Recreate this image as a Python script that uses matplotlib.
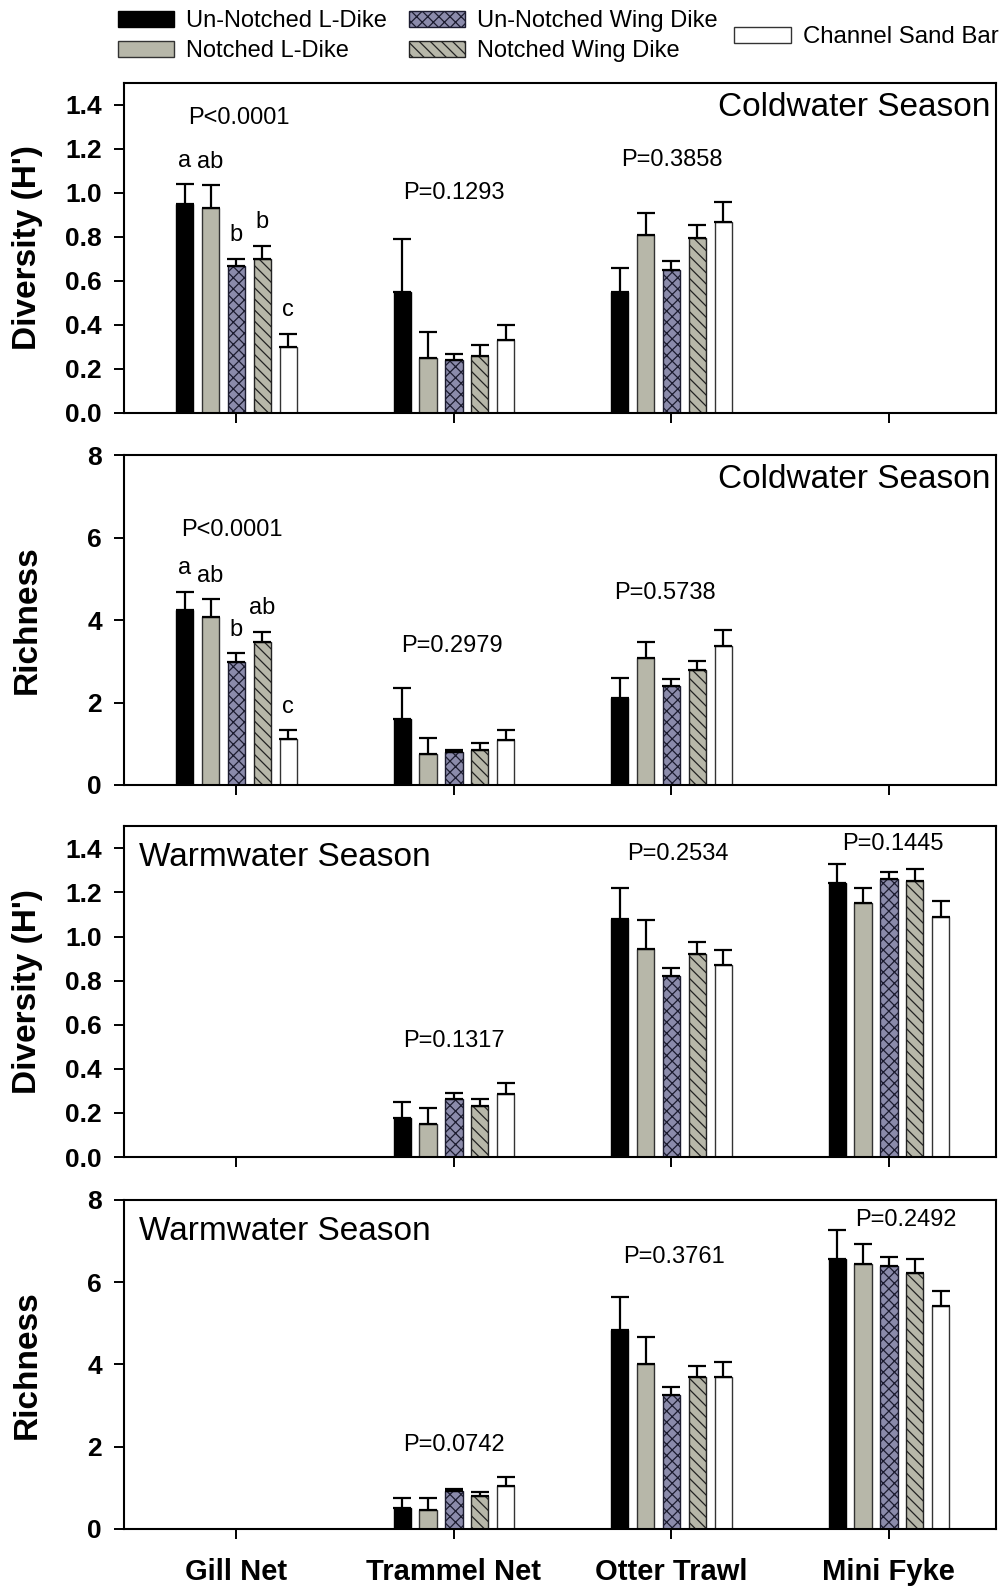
import matplotlib
matplotlib.use("Agg")
import matplotlib.pyplot as plt
import numpy as np

plt.rcParams['font.family'] = ['Liberation Sans', 'DejaVu Sans']
plt.rcParams['hatch.linewidth'] = 0.9

gears = ["Gill Net", "Trammel Net", "Otter Trawl", "Mini Fyke"]
habitats = ["Un-Notched L-Dike", "Notched L-Dike", "Un-Notched Wing Dike",
            "Notched Wing Dike", "Channel Sand Bar"]

# values per habitat (rows) x gear (cols); None = not sampled
cold_div_mean = [[0.95, 0.55, 0.55, None],
                 [0.93, 0.25, 0.81, None],
                 [0.67, 0.24, 0.65, None],
                 [0.70, 0.26, 0.795, None],
                 [0.30, 0.33, 0.87, None]]
cold_div_top = [[1.04, 0.79, 0.66, None],
                [1.035, 0.37, 0.91, None],
                [0.70, 0.27, 0.69, None],
                [0.76, 0.31, 0.855, None],
                [0.36, 0.40, 0.96, None]]

cold_rich_mean = [[4.25, 1.59, 2.10, None],
                  [4.08, 0.76, 3.07, None],
                  [2.98, 0.80, 2.40, None],
                  [3.46, 0.85, 2.78, None],
                  [1.12, 1.09, 3.38, None]]
cold_rich_top = [[4.69, 2.34, 2.59, None],
                 [4.50, 1.13, 3.47, None],
                 [3.19, 0.86, 2.58, None],
                 [3.72, 1.03, 3.01, None],
                 [1.33, 1.33, 3.77, None]]

warm_div_mean = [[None, 0.178, 1.08, 1.245],
                 [None, 0.148, 0.943, 1.153],
                 [None, 0.263, 0.819, 1.26],
                 [None, 0.233, 0.923, 1.25],
                 [None, 0.285, 0.871, 1.09]]
warm_div_top = [[None, 0.248, 1.22, 1.328],
                [None, 0.224, 1.075, 1.22],
                [None, 0.289, 0.857, 1.293],
                [None, 0.262, 0.976, 1.308],
                [None, 0.335, 0.94, 1.163]]

warm_rich_mean = [[None, 0.52, 4.84, 6.55],
                  [None, 0.47, 4.02, 6.44],
                  [None, 0.92, 3.25, 6.38],
                  [None, 0.79, 3.70, 6.21],
                  [None, 1.04, 3.70, 5.43]]
warm_rich_top = [[None, 0.74, 5.63, 7.26],
                 [None, 0.74, 4.66, 6.92],
                 [None, 0.96, 3.44, 6.62],
                 [None, 0.91, 3.95, 6.55],
                 [None, 1.26, 4.05, 5.78]]

p_cold_div = ["P<0.0001", "P=0.1293", "P=0.3858", None]
p_cold_div_pos = [(0.01, 1.34), (1.0, 1.0), (2.0, 1.15), None]
p_cold_rich = ["P<0.0001", "P=0.2979", "P=0.5738", None]
p_cold_rich_pos = [(-0.02, 6.18), (0.99, 3.37), (1.97, 4.65), None]
p_warm_div = [None, "P=0.1317", "P=0.2534", "P=0.1445"]
p_warm_div_pos = [None, (1.0, 0.525), (2.03, 1.373), (3.02, 1.42)]
p_warm_rich = [None, "P=0.0742", "P=0.3761", "P=0.2492"]
p_warm_rich_pos = [None, (1.0, 2.04), (2.01, 6.6), (3.08, 7.5)]

letters_div = ["a", "ab", "b", "b", "c"]
letters_rich = ["a", "ab", "b", "ab", "c"]

fill = ["#000000", "#b7b7a9", "#8b8bab", "#b7b7a9", "#ffffff"]
hatches = [None, None, "xxx", "\\\\\\", None]
edges = ["#000000", "#333333", "#1c1c30", "#222222", "#333333"]

fig = plt.figure(figsize=(10.05, 15.9), dpi=100)
L, W = 0.1234, 0.868
panels = [
    dict(rect=[L, 0.7403, W, 0.2075], mean=cold_div_mean, top=cold_div_top,
         ylim=(0, 1.5), yt=np.arange(0, 1.41, 0.2), fmt="%.1f", ylabel="Diversity (H')",
         p=p_cold_div, ppos=p_cold_div_pos, season="Coldwater Season", right=True,
         letters=letters_div),
    dict(rect=[L, 0.5063, W, 0.2075], mean=cold_rich_mean, top=cold_rich_top,
         ylim=(0, 8), yt=np.arange(0, 8.1, 2), fmt="%d", ylabel="Richness",
         p=p_cold_rich, ppos=p_cold_rich_pos, season="Coldwater Season", right=True,
         letters=letters_rich),
    dict(rect=[L, 0.2723, W, 0.2080], mean=warm_div_mean, top=warm_div_top,
         ylim=(0, 1.5), yt=np.arange(0, 1.41, 0.2), fmt="%.1f", ylabel="Diversity (H')",
         p=p_warm_div, ppos=p_warm_div_pos, season="Warmwater Season", right=False,
         letters=None),
    dict(rect=[L, 0.0384, W, 0.2070], mean=warm_rich_mean, top=warm_rich_top,
         ylim=(0, 8), yt=np.arange(0, 8.1, 2), fmt="%d", ylabel="Richness",
         p=p_warm_rich, ppos=p_warm_rich_pos, season="Warmwater Season", right=False,
         letters=None),
]

x = np.arange(len(gears))
spacing = 0.119
bw = 0.079
handles = []
for pi, P in enumerate(panels):
    ax = fig.add_axes(P["rect"])
    for h in range(5):
        xs, ms, es = [], [], []
        for g in range(4):
            m = P["mean"][h][g]
            if m is None:
                continue
            xs.append(x[g] + (h - 2) * spacing)
            ms.append(m)
            es.append(P["top"][h][g] - m)
        bars = ax.bar(xs, ms, width=bw, color=fill[h], edgecolor=edges[h],
                      linewidth=1.0, hatch=hatches[h], label=habitats[h], zorder=2)
        ax.errorbar(xs, ms, yerr=[np.zeros(len(es)), es], fmt="none",
                    ecolor="black", elinewidth=1.6, capsize=6.5, capthick=1.6, zorder=3)
        if pi == 0:
            handles.append(bars)
        if P["letters"] is not None:
            g = 0
            ax.annotate(P["letters"][h], (x[g] + (h - 2) * spacing, P["top"][h][g]),
                        xytext=(0, 17), textcoords="offset points", ha="center",
                        va="center", fontsize=17)
    for g in range(4):
        if P["p"][g] is not None:
            px, py = P["ppos"][g]
            ax.text(px, py, P["p"][g], ha="center", va="center", fontsize=17)
    if P["right"]:
        ax.text(0.993, 0.925, P["season"], transform=ax.transAxes, ha="right",
                va="center", fontsize=24)
    else:
        ax.text(0.017, 0.905, P["season"], transform=ax.transAxes, ha="left",
                va="center", fontsize=24)
    ax.set_xlim(-0.517, 3.494)
    ax.set_ylim(*P["ylim"])
    ax.set_yticks(P["yt"])
    ax.set_yticklabels([P["fmt"] % v for v in P["yt"]], fontsize=19, fontweight="bold")
    ax.set_xticks(x)
    if pi == 3:
        ax.set_xticklabels(gears, fontsize=21, fontweight="bold")
    else:
        ax.set_xticklabels([])
    ax.tick_params(axis="both", direction="out", length=7, width=1.4, colors="black")
    ax.tick_params(axis="y", pad=9)
    ax.tick_params(axis="x", pad=14)
    for s in ax.spines.values():
        s.set_linewidth(1.5)
    ax.set_ylabel(P["ylabel"], fontsize=24, fontweight="bold")
    ax.yaxis.set_label_coords(-0.093, 0.5)

leg1 = fig.legend(handles[:4], habitats[:4], ncol=2, loc="upper left",
                  bbox_to_anchor=(0.101, 1.004), frameon=False, fontsize=17,
                  handlelength=2.37, handleheight=0.65, handletextpad=0.5,
                  columnspacing=0.95, labelspacing=0.33, borderaxespad=0.3)
leg2 = fig.legend(handles[4:], habitats[4:], loc="upper left",
                  bbox_to_anchor=(0.714, 0.994), frameon=False, fontsize=17.3,
                  handlelength=2.37, handleheight=0.65, handletextpad=0.5,
                  borderaxespad=0.3)

fig.savefig("out.png", dpi=100)
